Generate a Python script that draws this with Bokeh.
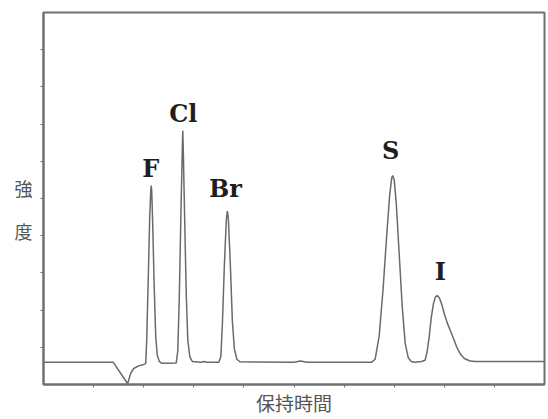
from bokeh.plotting import figure
from bokeh.models import Label, FixedTicker
from bokeh.embed import file_html
from bokeh.resources import INLINE

trace_x = [0.00, 1.39, 1.68, 1.74, 1.80, 1.90, 2.00,
           2.04, 2.06, 2.09, 2.12, 2.14, 2.15, 2.16, 2.18, 2.21, 2.24, 2.27, 2.31, 2.36,
           2.50,
           2.65, 2.68, 2.71, 2.74, 2.77, 2.78, 2.79, 2.82, 2.85, 2.88, 2.92, 2.97,
           3.15, 3.20, 3.25,
           3.50, 3.54, 3.57, 3.61, 3.65, 3.67, 3.69, 3.73, 3.77, 3.81, 3.86, 3.92,
           5.00, 5.13, 5.25,
           6.55, 6.62, 6.70, 6.78, 6.85, 6.91, 6.95, 6.97, 7.00, 7.04, 7.10, 7.16, 7.22, 7.28, 7.34, 7.40,
           7.55, 7.62, 7.66, 7.70, 7.74, 7.78, 7.82, 7.86, 7.90, 7.95, 8.00, 8.06, 8.12, 8.18, 8.25, 8.32, 8.40, 8.50, 8.60,
           10.00]
trace_y = [0.60, 0.60, 0.02, 0.30, 0.43, 0.50, 0.54,
           0.56, 1.20, 2.80, 4.50, 5.20, 5.35, 5.20, 4.30, 2.60, 1.30, 0.80, 0.62, 0.57,
           0.57,
           0.58, 0.90, 2.30, 4.40, 6.30, 6.83, 6.30, 4.30, 2.40, 1.20, 0.75, 0.62,
           0.60, 0.62, 0.60,
           0.60, 0.75, 1.60, 3.20, 4.45, 4.66, 4.45, 3.20, 1.70, 0.95, 0.68, 0.61,
           0.60, 0.63, 0.60,
           0.60, 0.68, 1.30, 2.60, 4.00, 5.10, 5.55, 5.62, 5.50, 4.90, 3.50, 2.10, 1.10, 0.72, 0.62, 0.60,
           0.62, 0.66, 0.90, 1.30, 1.80, 2.15, 2.35, 2.39, 2.33, 2.15, 1.90, 1.65, 1.45, 1.25, 1.00, 0.82, 0.70, 0.64, 0.62,
           0.62]

# Peak labels and their apex positions
peak_names = ["F", "Cl", "Br", "S", "I"]
peak_x = [2.15, 2.78, 3.67, 6.97, 7.86]
peak_y = [5.35, 6.83, 4.66, 5.62, 2.39]

ticks = [1, 2, 3, 4, 5, 6, 7, 8, 9]
x_title = "保持時間"
y_title = "\n強\n\n度"

GRAY = "#707070"

p = figure(width=548, height=419, output_backend="svg", toolbar_location=None,
           x_range=(0, 10), y_range=(0, 10),
           min_border_left=43, min_border_right=4, min_border_top=12, min_border_bottom=35)
p.background_fill_color = "white"
p.border_fill_color = "white"
p.grid.visible = False
p.outline_line_color = GRAY
p.outline_line_width = 2

for ax in (p.xaxis[0], p.yaxis[0]):
    ax.ticker = FixedTicker(ticks=ticks)
    ax.major_label_overrides = {t: "" for t in ticks}
    ax.axis_line_color = GRAY
    ax.axis_line_width = 2
    ax.major_tick_line_color = GRAY
    ax.major_tick_line_width = 1
    ax.major_tick_out = 3
    ax.major_tick_in = 0
    ax.minor_tick_line_color = None
    ax.major_label_text_font_size = "1px"
    ax.major_label_standoff = 0
    ax.axis_label_text_font = "Noto Sans CJK JP"
    ax.axis_label_text_font_style = "normal"
    ax.axis_label_text_font_size = "18px"
    ax.axis_label_text_color = "#555555"

p.xaxis[0].axis_label = x_title
p.xaxis[0].axis_label_standoff = 1
p.xaxis[0].axis_label_text_font_size = "19px"
p.yaxis[0].axis_label = y_title
p.yaxis[0].axis_label_orientation = "horizontal"
p.yaxis[0].axis_label_standoff = 8
p.yaxis[0].axis_label_text_line_height = 0.83

p.line(trace_x, trace_y, line_color="#6a6a6a", line_width=1.5)

# peak labels (offsets above each apex)
offsets = [0.46, 0.46, 0.61, 0.68, 0.64]
dx = [-0.01, 0.01, -0.04, -0.04, 0.06]
for name, xx, yy, off, d in zip(peak_names, peak_x, peak_y, offsets, dx):
    p.add_layout(Label(x=xx + d, y=yy + off, text=name, text_align="center",
                       text_baseline="alphabetic", text_font="DejaVu Serif",
                       text_font_style="bold", text_font_size="24px", text_color="#1e1e1e"))

open("out.html", "w").write(file_html(p, INLINE))
